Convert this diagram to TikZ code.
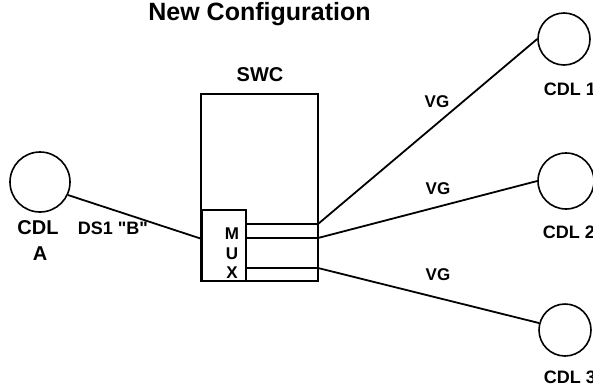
\documentclass[tikz,border=0pt]{standalone}
\usepackage{fontspec}
\setmainfont{Liberation Sans}
\begin{document}
\begin{tikzpicture}[x=1pt,y=-1pt,line width=1.8pt,
  lbl/.style={font=\bfseries\fontsize{#1}{#1}\selectfont,inner sep=0pt},
  cdl/.style={circle,draw,minimum size=#1,inner sep=0pt,line width=1.6pt},
  boxn/.style={draw,inner sep=0pt}]
\useasboundingbox (0,0) rectangle (593,386);
\clip (0,0) rectangle (593,386);
% titles
\node[lbl=25,anchor=base] (title) at (259.5,20) {New Configuration};
\node[lbl=20,anchor=base] (swclbl) at (260,81) {SWC};
% boxes
\node[boxn,minimum width=117pt,minimum height=187pt] (swc) at (259.5,187.5) {};
\node[boxn,minimum width=44pt,minimum height=71pt] (mux) at (224,245.5) {};
\node[lbl=17,anchor=base] (m) at (232,239) {M};
\node[lbl=17,anchor=base] (u) at (232,259) {U};
\node[lbl=17,anchor=base] (x) at (232,278) {X};
% internal lines
\coordinate (h1l) at (246,224); \coordinate (h1r) at (318,224);
\coordinate (h2l) at (246,238); \coordinate (h2r) at (318,238);
\coordinate (h3l) at (246,268); \coordinate (h3r) at (318,268);
\coordinate (muxin) at (202,239);
\draw (h1l) -- (h1r);
\draw (h2l) -- (h2r);
\draw (h3l) -- (h3r);
% circles
\node[cdl=52pt] (c1) at (564,39) {};
\node[cdl=56pt] (c2) at (566,181) {};
\node[cdl=52pt] (c3) at (565,330) {};
\node[cdl=60pt] (ca) at (40,182) {};
% connectors
\draw (h1r) -- (c1.west);
\draw (h2r) -- (c2.west);
\draw (h3r) -- (c3.165);
\draw (ca.-25) -- (muxin);
% labels
\node[lbl=17] (vg1) at (437,102) {VG};
\node[lbl=17] (vg2) at (438,189) {VG};
\node[lbl=17] (vg3) at (438,275) {VG};
\node[lbl=20] (cdla) at (38,228) {CDL};
\node[lbl=20] (cdlaa) at (40,254) {A};
\node[lbl=18] (ds1) at (113,228) {DS1 \textquotedbl B\textquotedbl};
\node[lbl=18,anchor=west] (l1) at (543,89) {CDL 1};
\node[lbl=18,anchor=west] (l2) at (542,232) {CDL 2};
\node[lbl=18,anchor=west] (l3) at (543,377) {CDL 3};
\end{tikzpicture}
\end{document}
